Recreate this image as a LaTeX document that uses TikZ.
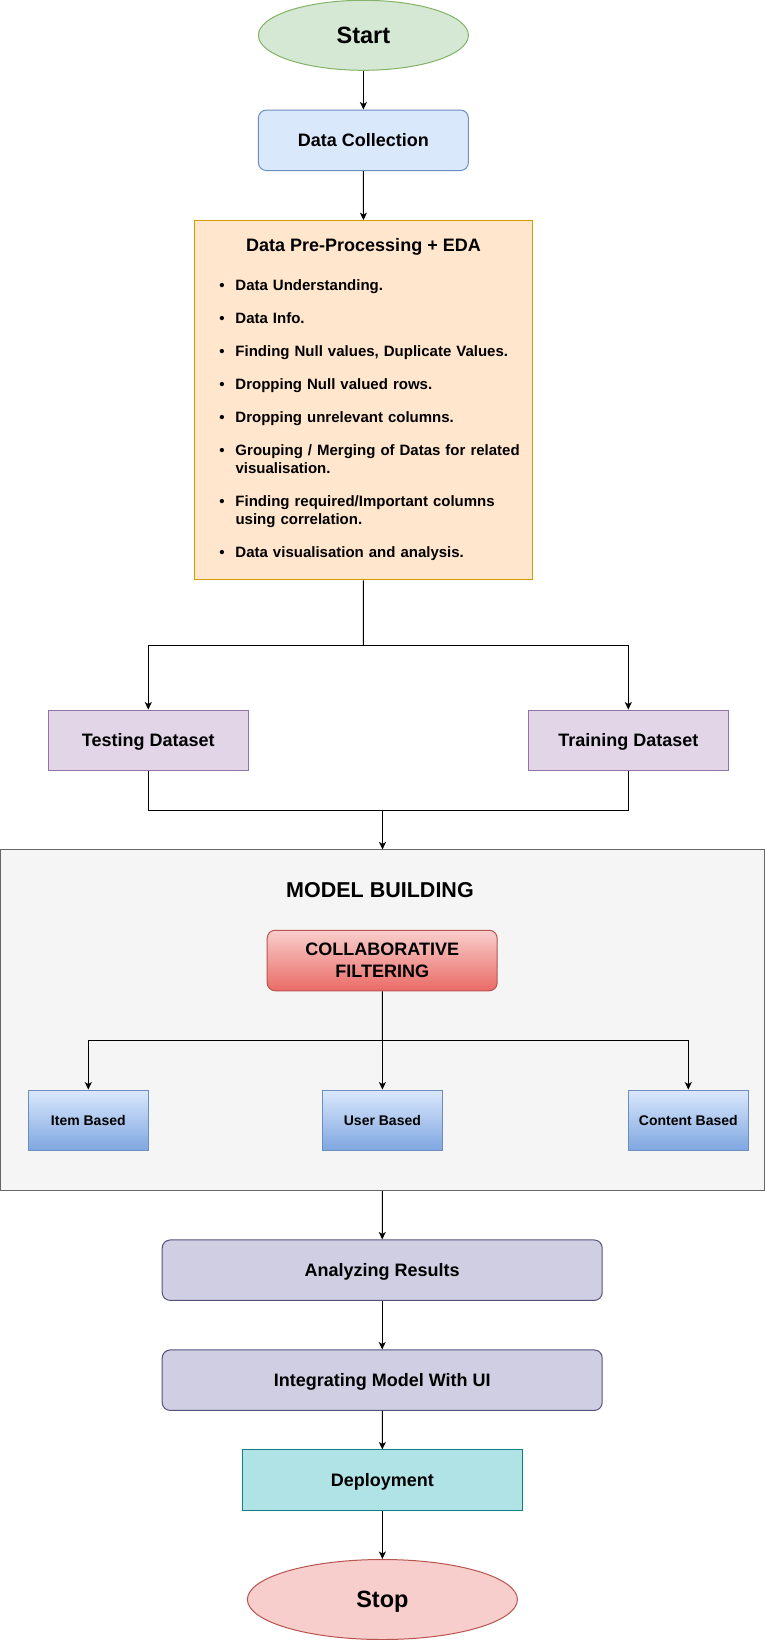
\documentclass[tikz,border=0pt]{standalone}
\usepackage{fontspec}
\setmainfont{Liberation Sans}
\usetikzlibrary{shapes.geometric}
\usetikzlibrary{arrows.meta}

\definecolor{startfill}{HTML}{D5E8D4}
\definecolor{startline}{HTML}{82B366}
\definecolor{collfill}{HTML}{DAE8FC}
\definecolor{collline}{HTML}{6C8EBF}
\definecolor{prepfill}{HTML}{FFE6CC}
\definecolor{prepline}{HTML}{D79B00}
\definecolor{setfill}{HTML}{E1D5E7}
\definecolor{setline}{HTML}{9673A6}
\definecolor{modelfill}{HTML}{F5F5F5}
\definecolor{modelline}{HTML}{666666}
\definecolor{cftop}{HTML}{F8CECC}
\definecolor{cfbot}{HTML}{EA6B66}
\definecolor{cfline}{HTML}{B85450}
\definecolor{itemtop}{HTML}{DAE8FC}
\definecolor{itembot}{HTML}{7EA6E0}
\definecolor{resfill}{HTML}{D0CEE2}
\definecolor{resline}{HTML}{56517E}
\definecolor{depfill}{HTML}{B0E3E6}
\definecolor{depline}{HTML}{0E8088}
\definecolor{stopfill}{HTML}{F8CECC}
\definecolor{stopline}{HTML}{B85450}

\begin{document}
\begin{tikzpicture}[x=1pt, y=-1pt,
	flowbox/.style={draw, line width=1pt, inner sep=0pt, minimum height=60.5pt, text depth=0pt, align=center, font=\fontsize{18}{21.6}\selectfont\bfseries},
	roundbox/.style={flowbox, rounded corners=8pt},
	oval/.style={flowbox, ellipse, font=\fontsize{23.5}{28}\selectfont\bfseries},
	smallbox/.style={flowbox, minimum width=120pt, top color=itemtop, bottom color=itembot, draw=collline, font=\fontsize{14}{16.8}\selectfont\bfseries},
	arr/.style={line width=1pt, -{Stealth[length=7.5pt,width=7pt,inset=2pt]}}]
	\useasboundingbox (0,0) rectangle (765,1640);

	\node[oval, fill=startfill, draw=startline, minimum width=210pt, minimum height=70pt] (start) at (363.4,35.3) {Start};
	\node[roundbox, fill=collfill, draw=collline, minimum width=210pt] (collect) at (363.4,140.3) {Data Collection};

	\node[flowbox, fill=prepfill, draw=prepline, minimum width=338.4pt, minimum height=359.3pt] (prep) at (363.5,400.3) {};
	\node[anchor=base, font=\fontsize{18}{21.6}\selectfont\bfseries] (preptitle) at (363.5,251.7) {Data Pre-Processing + EDA};
	\node[anchor=base west, inner sep=0pt, text width=285pt, align=left, font=\fontsize{15}{17.7}\selectfont\bfseries] (preplist) at (235.3,290.7) {\setlength{\parskip}{15.3pt}%
		\leavevmode\llap{\textbullet\hspace{11pt}}Data Understanding.\par
		\leavevmode\llap{\textbullet\hspace{11pt}}Data Info.\par
		\leavevmode\llap{\textbullet\hspace{11pt}}Finding Null values, Duplicate Values.\par
		\leavevmode\llap{\textbullet\hspace{11pt}}Dropping Null valued rows.\par
		\leavevmode\llap{\textbullet\hspace{11pt}}Dropping unrelevant columns.\par
		\leavevmode\llap{\textbullet\hspace{11pt}}Grouping / Merging of Datas for related visualisation.\par
		\leavevmode\llap{\textbullet\hspace{11pt}}Finding required/Important columns using correlation.\par
		\leavevmode\llap{\textbullet\hspace{11pt}}Data visualisation and analysis.};

	\node[flowbox, fill=setfill, draw=setline, minimum width=200pt] (test) at (148.3,740.3) {Testing Dataset};
	\node[flowbox, fill=setfill, draw=setline, minimum width=200pt] (train) at (628.3,740.3) {Training Dataset};

	\node[flowbox, fill=modelfill, draw=modelline, minimum width=764pt, minimum height=340.7pt] (model) at (382.5,1020.3) {};
	\node[anchor=base, font=\fontsize{21.5}{25}\selectfont\bfseries] (modeltitle) at (380,897.3) {MODEL BUILDING};
	\node[roundbox, top color=cftop, bottom color=cfbot, draw=cfline, minimum width=230pt] (cf) at (382.2,960.5) {COLLABORATIVE\\FILTERING};
	\node[smallbox] (item) at (88.3,1120.3) {Item Based};
	\node[smallbox] (user) at (382.4,1120.3) {User Based};
	\node[smallbox] (content) at (688.3,1120.3) {Content Based};

	\node[roundbox, fill=resfill, draw=resline, minimum width=440pt] (results) at (382.2,1270.2) {Analyzing Results};
	\node[roundbox, fill=resfill, draw=resline, minimum width=440pt] (ui) at (382.2,1380.2) {Integrating Model With UI};
	\node[flowbox, fill=depfill, draw=depline, minimum width=280pt] (deploy) at (382.4,1480.2) {Deployment};
	\node[oval, fill=stopfill, draw=stopline, minimum width=270pt, minimum height=80pt] (stop) at (382.4,1599.5) {Stop};

	\coordinate (split) at (363.4,645.3);
	\coordinate (join) at (382.5,810.4);
	\coordinate (fork) at (382.4,1040.3);

	\draw[arr] (start) -- (collect);
	\draw[arr] (collect) -- (prep);
	\draw[line width=1pt] (prep) -- (split);
	\draw[arr] (split) -| (test);
	\draw[arr] (split) -| (train);
	\draw[line width=1pt] (test) |- (join) -| (train);
	\draw[arr] (join) -- (model);
	\draw[line width=1pt] (cf) -- (fork);
	\draw[arr] (fork) -| (item);
	\draw[arr] (fork) -- (user);
	\draw[arr] (fork) -| (content);
	\draw[arr] (model) -- (results);
	\draw[arr] (results) -- (ui);
	\draw[arr] (ui) -- (deploy);
	\draw[arr] (deploy) -- (stop);
\end{tikzpicture}
\end{document}
